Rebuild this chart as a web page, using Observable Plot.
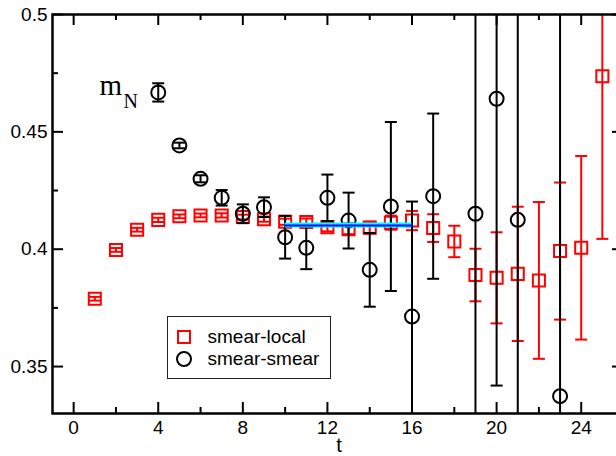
<!DOCTYPE html>
<html>
<head>
<meta charset="utf-8">
<script src="https://cdn.jsdelivr.net/npm/d3@7"></script>
<script src="https://cdn.jsdelivr.net/npm/@observablehq/plot@0.6"></script>
<style>
  html, body { margin: 0; padding: 0; background: white; }
  #wrap { position: relative; width: 616px; height: 456px; overflow: hidden; }
  #legend {
    position: absolute; left: 167px; top: 316px; width: 164px; height: 63px;
    box-sizing: border-box; border: 1px solid #222; background: white;
    padding: 8.5px 0 0 7.5px;
    font-family: "Liberation Sans", Arial, sans-serif; font-size: 19px; line-height: 22px; color: black;
  }
  .item { display: flex; align-items: center; height: 22px; }
  .mk { width: 16px; height: 22px; display: flex; align-items: center; justify-content: center; margin-right: 16px; }
  .sq { width: 10px; height: 10px; border: 2px solid #ff0000; }
  .ci { width: 12px; height: 12px; border: 2px solid black; border-radius: 50%; }
</style>
</head>
<body>
<div id="wrap"></div>
<script>
// ---- data ----
const tLocal = [1,2,3,4,5,6,7,8,9,10,11,12,13,14,15,16,17,18,19,20,21,22,23,24,25];
const mLocal = [0.3789,0.3997,0.4083,0.4125,0.4140,0.4144,0.4144,0.4137,0.4128,0.4117,0.4116,0.4094,0.4085,0.4092,0.4113,0.4122,0.4090,0.4033,0.3890,0.3878,0.3895,0.3867,0.3992,0.4006,0.4737];
const eLocal = [0.0008,0.0008,0.0008,0.0009,0.0008,0.0008,0.0009,0.0010,0.0011,0.0013,0.0015,0.0018,0.0021,0.0025,0.0030,0.0041,0.0059,0.0067,0.0112,0.0194,0.0286,0.0334,0.0292,0.0391,0.0693];

const tSmear = [4,5,6,7,8,9,10,11,12,13,14,15,16,17,19,20,21,23];
const mSmear = [0.4668,0.4442,0.4300,0.4219,0.4151,0.4179,0.4051,0.4006,0.4219,0.4122,0.3912,0.4182,0.3713,0.4226,0.4151,0.4641,0.4125,0.3374];
const eSmear = [0.0039,0.0012,0.0015,0.0033,0.0040,0.0042,0.0091,0.0091,0.0099,0.0119,0.0157,0.0360,0.0490,0.0352,0.1100,0.1222,0.1200,0.1800];

const fitT = [10, 16];
const fitValue = 0.4101;
const fitErr = 0.0011;

const xMajor = [0,4,8,12,16,20,24];
const xMinor = [2,6,10,14,18,22];
const yMajor = [0.35,0.4,0.45,0.5];
const yMinor = [0.375,0.425,0.475];

// ---- rows ----
const local = tLocal.map((t,i) => ({t, v: mLocal[i], lo: mLocal[i]-eLocal[i], hi: mLocal[i]+eLocal[i]}));
const smear = tSmear.map((t,i) => ({t, v: mSmear[i], lo: mSmear[i]-eSmear[i], hi: mSmear[i]+eSmear[i]}));
const fit = fitT.map(t => ({t, v: fitValue, lo: fitValue-fitErr, hi: fitValue+fitErr}));

const cap = {draw(ctx) { ctx.moveTo(-6, 0); ctx.lineTo(6, 0); }};

const W = 616, H = 456, mL = 52, mT = 14, mB = 43, mR = -7;
const pw = W - mL - mR, ph = H - mT - mB;

function series(rows, color, symbolOpts) {
  return [
    Plot.ruleX(rows, {x: "t", y1: "lo", y2: "hi", stroke: color, strokeWidth: 2, clip: true}),
    Plot.dot(rows, {x: "t", y: "lo", symbol: cap, r: 6, stroke: color, fill: "none", strokeWidth: 2, clip: true}),
    Plot.dot(rows, {x: "t", y: "hi", symbol: cap, r: 6, stroke: color, fill: "none", strokeWidth: 2, clip: true}),
    Plot.dot(rows, {x: "t", y: "v", stroke: color, fill: "none", strokeWidth: 2, clip: true, ...symbolOpts})
  ];
}

const serif = "'Liberation Serif', 'Times New Roman', serif";

const chart = Plot.plot({
  width: W, height: H,
  marginLeft: mL, marginRight: mR, marginTop: mT, marginBottom: mB,
  style: {fontFamily: "'Liberation Sans', Arial, sans-serif", fontSize: "19px", color: "black", background: "white"},
  x: {domain: [-1, 26]},
  y: {domain: [0.33, 0.5]},
  marks: [
    ...series(local, "#ff0000", {symbol: "square", r: 6.8}),
    ...series(smear, "black", {symbol: "circle", r: 7}),
    Plot.areaY(fit, {x: "t", y1: "lo", y2: "hi", fill: "#00ffff"}),
    Plot.lineY(fit, {x: "t", y: "v", stroke: "#0000ff", strokeWidth: 2}),
    // inward ticks on all sides
    Plot.tickX(xMajor, {x: d => d, insetTop: ph - 11, stroke: "black", strokeWidth: 2}),
    Plot.tickX(xMinor, {x: d => d, insetTop: ph - 6, stroke: "black", strokeWidth: 2}),
    Plot.tickX(xMajor, {x: d => d, insetBottom: ph - 11, stroke: "black", strokeWidth: 2}),
    Plot.tickX(xMinor, {x: d => d, insetBottom: ph - 6, stroke: "black", strokeWidth: 2}),
    Plot.tickY(yMajor, {y: d => d, insetRight: pw - 11, stroke: "black", strokeWidth: 2}),
    Plot.tickY(yMinor, {y: d => d, insetRight: pw - 6, stroke: "black", strokeWidth: 2}),
    Plot.tickY(yMajor, {y: d => d, insetLeft: pw - 11, stroke: "black", strokeWidth: 2}),
    Plot.tickY(yMinor, {y: d => d, insetLeft: pw - 6, stroke: "black", strokeWidth: 2}),
    Plot.frame({stroke: "black", strokeWidth: 2.5}),
    Plot.axisX({ticks: xMajor, tickSize: 0, tickPadding: 7, tickFormat: d => String(d), label: null, fontSize: 19}),
    Plot.axisY({ticks: yMajor, tickSize: 0, tickPadding: 5, tickFormat: d => String(d), label: null, fontSize: 19}),
    Plot.text(["t"], {text: d => d, frameAnchor: "bottom", lineAnchor: "top", dx: 1, dy: 24, fontSize: 20}),
    Plot.text(["m"], {text: d => d, frameAnchor: "top-left", textAnchor: "start", lineAnchor: "bottom", dx: 47, dy: 80, fontSize: 29, fontFamily: serif}),
    Plot.text(["N"], {text: d => d, frameAnchor: "top-left", textAnchor: "start", lineAnchor: "bottom", dx: 71, dy: 93, fontSize: 20, fontFamily: serif})
  ]
});

const wrap = document.getElementById("wrap");
wrap.appendChild(chart);

const legend = document.createElement("div");
legend.id = "legend";
const legendLabels = ["smear-local", "smear-smear"];
const legendMarks = ["sq", "ci"];
legend.innerHTML = legendLabels.map((l, i) =>
  `<div class="item"><span class="mk"><span class="${legendMarks[i]}"></span></span><span>${l}</span></div>`).join("");
wrap.appendChild(legend);
</script>
</body>
</html>
